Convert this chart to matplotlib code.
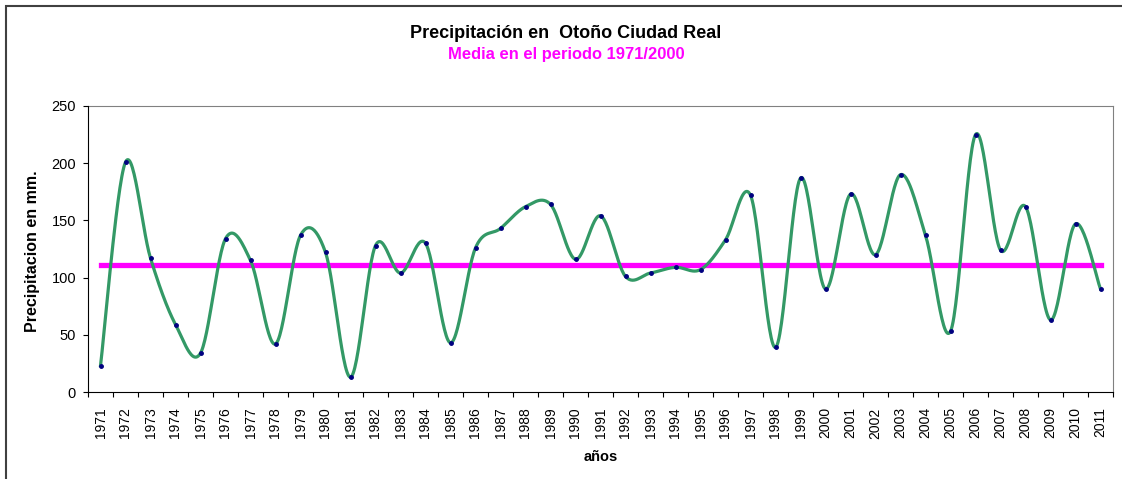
import numpy as np
import matplotlib.pyplot as plt
from matplotlib.patches import Rectangle

plt.rcParams['font.family'] = ['Liberation Sans', 'DejaVu Sans']

years = list(range(1971, 2012))
precip = [23, 201, 117, 59, 34, 134, 115, 42, 137, 122,
          13, 128, 104, 130, 43, 126, 143, 162, 164, 116,
          154, 101, 104, 109, 107, 133, 172, 39, 187, 90,
          173, 120, 190, 137, 53, 225, 124, 162, 63, 147, 90]
media = 111
year_labels = [str(y) for y in years]


def excel_smooth(x, y, n=30):
    # bezier smoothing like excel's "smoothed line"
    x = np.asarray(x, float)
    y = np.asarray(y, float)
    px = np.concatenate([[x[0]], x, [x[-1]]])
    py = np.concatenate([[y[0]], y, [y[-1]]])
    t = np.linspace(0, 1, n)
    xs, ys = [], []
    for i in range(1, len(px) - 2):
        b0 = (px[i], py[i])
        b1 = (px[i] + (px[i+1] - px[i-1]) / 6, py[i] + (py[i+1] - py[i-1]) / 6)
        b2 = (px[i+1] - (px[i+2] - px[i]) / 6, py[i+1] - (py[i+2] - py[i]) / 6)
        b3 = (px[i+1], py[i+1])
        for k in range(2):
            c = ((1-t)**3 * b0[k] + 3*(1-t)**2*t * b1[k]
                 + 3*(1-t)*t**2 * b2[k] + t**3 * b3[k])
            (xs if k == 0 else ys).append(c)
    return np.concatenate(xs), np.concatenate(ys)


fig = plt.figure(figsize=(11.22, 4.79), dpi=100)
ax = fig.add_axes([88/1122, 1 - 392/479, (1113-88)/1122, (392-106)/479])

pos = np.arange(len(years))
sx, sy = excel_smooth(pos, precip)
ax.plot(sx, sy, color='#339966', lw=2.3, zorder=3)
ax.plot(pos, precip, 'o', color='#000080', ms=2.5, zorder=4)
ax.plot(pos, [media] * len(years), color='#FF00FF', lw=3.8, zorder=2)

ax.set_xlim(-0.5, len(years) - 0.5)
ax.set_ylim(0, 250)
ax.set_yticks(range(0, 251, 50))
ax.set_xticks(pos)
ax.set_xticklabels(year_labels, rotation=90, fontsize=10)
ax.set_xticks(np.arange(-0.5, len(years)), minor=True)
ax.tick_params(axis='x', which='major', length=0, pad=11)
ax.tick_params(axis='x', which='minor', length=3.6, width=0.8, direction='out')
ax.tick_params(axis='y', labelsize=10.5, length=3.6, width=0.8, direction='out', pad=5)

for s in ['top', 'right']:
    ax.spines[s].set_color('#808080')
for s in ['left', 'bottom']:
    ax.spines[s].set_color('black')
    ax.spines[s].set_zorder(5)

fig.text(0.504, 1 - 33/479, 'Precipitación en  Otoño Ciudad Real', ha='center', va='center',
         fontsize=13, fontweight='bold')
fig.text(0.505, 1 - 55/479, 'Media en el periodo 1971/2000', ha='center', va='center',
         fontsize=11.9, fontweight='bold', color='#FF00FF')
fig.text(0.535, 1 - 457/479, 'años', ha='center', va='center', fontsize=10.5, fontweight='bold')
fig.text(33/1122, 1 - 251/479, 'Precipitacion en mm.', ha='center', va='center',
         rotation=90, fontsize=11.5, fontweight='bold')

# outer chart border
fig.patches.append(Rectangle((6/1122, -0.1), 1.2, 1 - 5.5/479 + 0.1, transform=fig.transFigure,
                             fill=False, edgecolor='#404040', lw=1.5))

fig.savefig('out.png', dpi=100)
